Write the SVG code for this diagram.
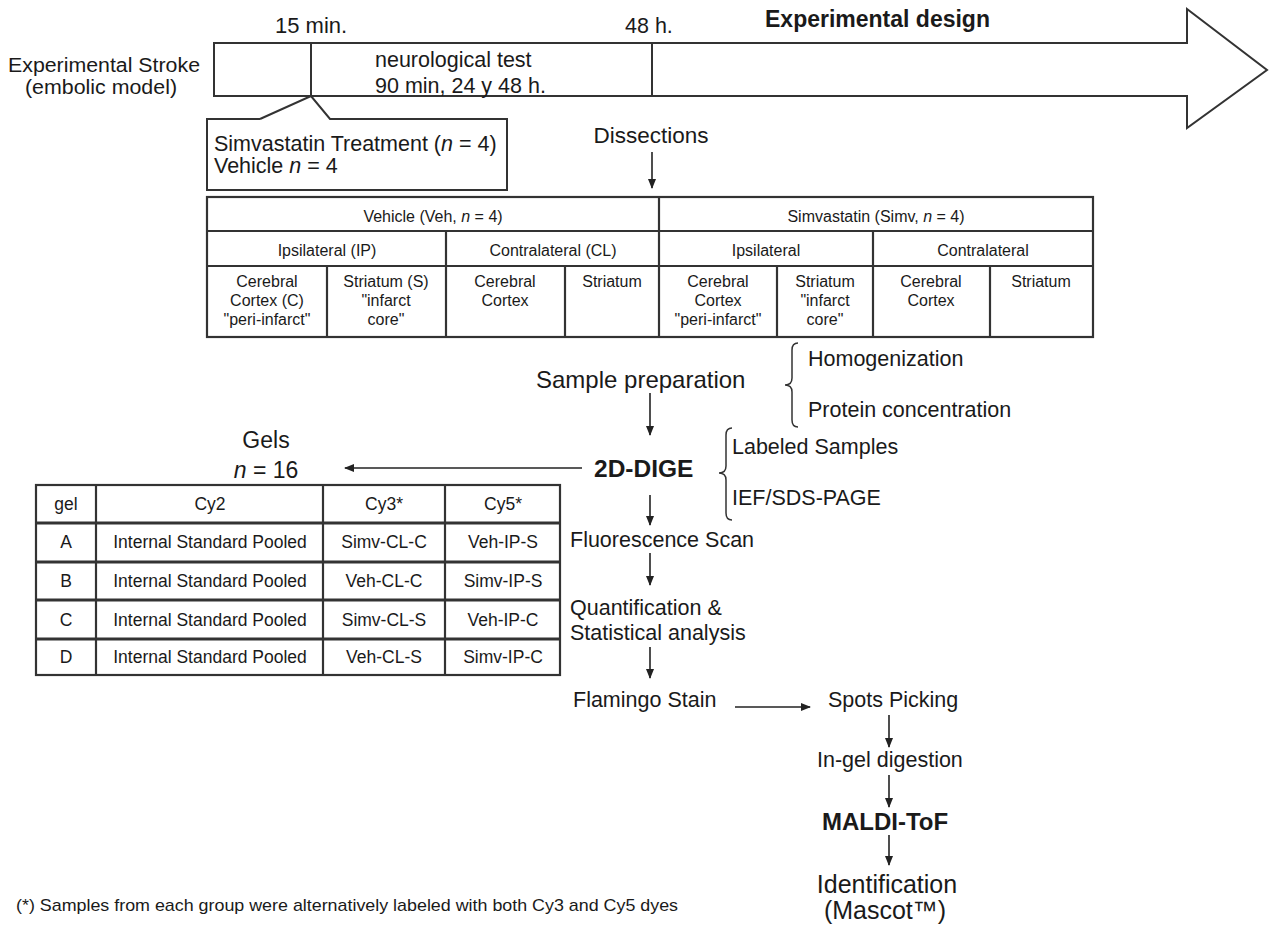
<svg xmlns="http://www.w3.org/2000/svg" width="1271" height="928" viewBox="0 0 1271 928">
<style>
text{font-family:"Liberation Sans",Arial,sans-serif;fill:#1a1a1a}
.t{font-size:21.5px}
.b{font-weight:bold}
.s{font-size:16px}
.g{font-size:17.5px}
.m{text-anchor:middle}
.ln{stroke:#333;stroke-width:2;fill:none}
.th{stroke:#333;stroke-width:2.2;fill:none}
.ar{stroke:#222;stroke-width:1.6;fill:none;marker-end:url(#ah)}
</style>
<defs>
<marker id="ah" markerUnits="userSpaceOnUse" markerWidth="10" markerHeight="10" viewBox="0 0 10 10" refX="9" refY="5" orient="auto">
<path d="M0,1 L10,5 L0,9 Z" fill="#222"/>
</marker>
</defs>
<rect width="1271" height="928" fill="#fff"/>

<g id="timeline">
<path class="ln" d="M214,43 H1187 V9 L1267,70 L1187,128 V96 H214 Z"/>
<line class="ln" x1="311" y1="43" x2="311" y2="96"/>
<line class="ln" x1="652" y1="43" x2="652" y2="96"/>
<text class="t" x="275" y="33" style="font-size:22px">15 min.</text>
<text class="t" x="625" y="33">48 h.</text>
<text class="t b" x="765" y="27" style="font-size:23px">Experimental design</text>
<text class="t" x="375" y="67">neurological test</text>
<text class="t" x="375" y="93">90 min, 24 y 48 h.</text>
</g>

<g id="stroke-label">
<text x="8" y="72" style="font-size:20px" textLength="192" lengthAdjust="spacingAndGlyphs">Experimental Stroke</text>
<text x="25" y="94" style="font-size:20px" textLength="152" lengthAdjust="spacingAndGlyphs">(embolic model)</text>
</g>

<g id="treatment">
<path class="ln" d="M260,119 H207 V190 H507 V119 H330 L311,96 L260,119"/>
<text class="t" x="214" y="151">Simvastatin Treatment (<tspan font-style="italic">n</tspan> = 4)</text>
<text class="t" x="214" y="173">Vehicle <tspan font-style="italic">n</tspan> = 4</text>
</g>

<g id="dissections">
<text class="t m" x="651" y="143" style="font-size:22.5px">Dissections</text>
</g>

<g id="dissection-table">
<rect class="th" x="207" y="197" width="886" height="140"/>
<line class="th" x1="207" y1="231" x2="1093" y2="231"/>
<line class="th" x1="207" y1="266" x2="1093" y2="266"/>
<line class="th" x1="659" y1="197" x2="659" y2="337"/>
<line class="th" x1="446" y1="231" x2="446" y2="337"/>
<line class="th" x1="873" y1="231" x2="873" y2="337"/>
<line class="th" x1="327" y1="266" x2="327" y2="337"/>
<line class="th" x1="565" y1="266" x2="565" y2="337"/>
<line class="th" x1="777" y1="266" x2="777" y2="337"/>
<line class="th" x1="990" y1="266" x2="990" y2="337"/>
<text class="s m" x="433" y="222">Vehicle (Veh, <tspan font-style="italic">n</tspan> = 4)</text>
<text class="s m" x="876" y="222">Simvastatin (Simv, <tspan font-style="italic">n</tspan> = 4)</text>
<text class="s m" x="327" y="256">Ipsilateral (IP)</text>
<text class="s m" x="553" y="256">Contralateral (CL)</text>
<text class="s m" x="766" y="256">Ipsilateral</text>
<text class="s m" x="983" y="256">Contralateral</text>
<text class="s m" x="267" y="287">Cerebral</text>
<text class="s m" x="267" y="306">Cortex (C)</text>
<text class="s m" x="267" y="325">"peri-infarct"</text>
<text class="s m" x="386" y="287">Striatum (S)</text>
<text class="s m" x="386" y="306">"infarct</text>
<text class="s m" x="386" y="325">core"</text>
<text class="s m" x="505" y="287">Cerebral</text>
<text class="s m" x="505" y="306">Cortex</text>
<text class="s m" x="612" y="287">Striatum</text>
<text class="s m" x="718" y="287">Cerebral</text>
<text class="s m" x="718" y="306">Cortex</text>
<text class="s m" x="718" y="325">"peri-infarct"</text>
<text class="s m" x="825" y="287">Striatum</text>
<text class="s m" x="825" y="306">"infarct</text>
<text class="s m" x="825" y="325">core"</text>
<text class="s m" x="931" y="287">Cerebral</text>
<text class="s m" x="931" y="306">Cortex</text>
<text class="s m" x="1041" y="287">Striatum</text>
</g>

<g id="sample-prep">
<text class="t" x="536" y="388" style="font-size:24px">Sample preparation</text>
<path class="ln" style="stroke-width:1.5" d="M798,343 Q792,343 792,350 L792,378 Q792,385 785,385 Q792,385 792,392 L792,420 Q792,427 798,427"/>
<text class="t" x="808" y="366">Homogenization</text>
<text class="t" x="808" y="417">Protein concentration</text>
</g>

<g id="dige">
<text class="t b" x="594" y="477" style="font-size:24.5px">2D-DIGE</text>
<path class="ln" style="stroke-width:1.5" d="M732,428 Q726,428 726,435 L726,466 Q726,473 719,473 Q726,473 726,480 L726,513 Q726,520 732,520"/>
<text class="t" x="732" y="454">Labeled Samples</text>
<text class="t" x="732" y="505">IEF/SDS-PAGE</text>
</g>

<g id="gels-label">
<text class="t m" x="266" y="448" style="font-size:23px">Gels</text>
<text class="t m" x="266" y="478" style="font-size:23px"><tspan font-style="italic">n</tspan> = 16</text>
</g>

<g id="gels-table">
<rect class="th" x="36" y="485" width="524" height="190"/>
<line class="th" x1="96" y1="485" x2="96" y2="675"/>
<line class="th" x1="323" y1="485" x2="323" y2="675"/>
<line class="th" x1="445" y1="485" x2="445" y2="675"/>
<line class="th" style="stroke-width:3" x1="36" y1="523" x2="560" y2="523"/>
<line class="th" style="stroke-width:3" x1="36" y1="562" x2="560" y2="562"/>
<line class="th" style="stroke-width:3" x1="36" y1="600" x2="560" y2="600"/>
<line class="th" style="stroke-width:3" x1="36" y1="639" x2="560" y2="639"/>
<text class="g m" x="66" y="510">gel</text>
<text class="g m" x="210" y="510">Cy2</text>
<text class="g m" x="384" y="510">Cy3*</text>
<text class="g m" x="503" y="510">Cy5*</text>
<text class="g m" x="66" y="548">A</text>
<text class="g m" x="210" y="548">Internal Standard Pooled</text>
<text class="g m" x="384" y="548">Simv-CL-C</text>
<text class="g m" x="503" y="548">Veh-IP-S</text>
<text class="g m" x="66" y="587">B</text>
<text class="g m" x="210" y="587">Internal Standard Pooled</text>
<text class="g m" x="384" y="587">Veh-CL-C</text>
<text class="g m" x="503" y="587">Simv-IP-S</text>
<text class="g m" x="66" y="626">C</text>
<text class="g m" x="210" y="626">Internal Standard Pooled</text>
<text class="g m" x="384" y="626">Simv-CL-S</text>
<text class="g m" x="503" y="626">Veh-IP-C</text>
<text class="g m" x="66" y="663">D</text>
<text class="g m" x="210" y="663">Internal Standard Pooled</text>
<text class="g m" x="384" y="663">Veh-CL-S</text>
<text class="g m" x="503" y="663">Simv-IP-C</text>
</g>

<g id="fluorescence"><text class="t" x="570" y="547">Fluorescence Scan</text></g>
<g id="quantification">
<text class="t" x="570" y="615">Quantification &amp;</text>
<text class="t" x="570" y="640">Statistical analysis</text>
</g>
<g id="flamingo"><text class="t" x="573" y="707">Flamingo Stain</text></g>
<g id="spots"><text class="t" x="828" y="707">Spots Picking</text></g>
<g id="ingel"><text class="t" x="817" y="767">In-gel digestion</text></g>
<g id="maldi"><text class="t b" x="822" y="830" style="font-size:24px">MALDI-ToF</text></g>
<g id="identification">
<text class="t m" x="887" y="893" style="font-size:25px">Identification</text>
<text class="t m" x="885" y="919" style="font-size:25px">(Mascot™)</text>
</g>

<g id="footnote">
<text x="16" y="911" style="font-size:17px" textLength="662" lengthAdjust="spacingAndGlyphs">(*) Samples from each group were alternatively labeled with both Cy3 and Cy5 dyes</text>
</g>

<g id="connectors">
<line class="ar" x1="652" y1="152" x2="652" y2="188"/>
<line class="ar" x1="650" y1="393" x2="650" y2="435"/>
<line class="ar" x1="582" y1="468" x2="345" y2="468"/>
<line class="ar" x1="650" y1="495" x2="650" y2="525"/>
<line class="ar" x1="650" y1="553" x2="650" y2="585"/>
<line class="ar" x1="650" y1="647" x2="650" y2="678"/>
<line class="ar" x1="735" y1="707" x2="810" y2="707"/>
<line class="ar" x1="889" y1="715" x2="889" y2="747"/>
<line class="ar" x1="889" y1="775" x2="889" y2="807"/>
<line class="ar" x1="889" y1="835" x2="889" y2="865"/>
</g>
</svg>
